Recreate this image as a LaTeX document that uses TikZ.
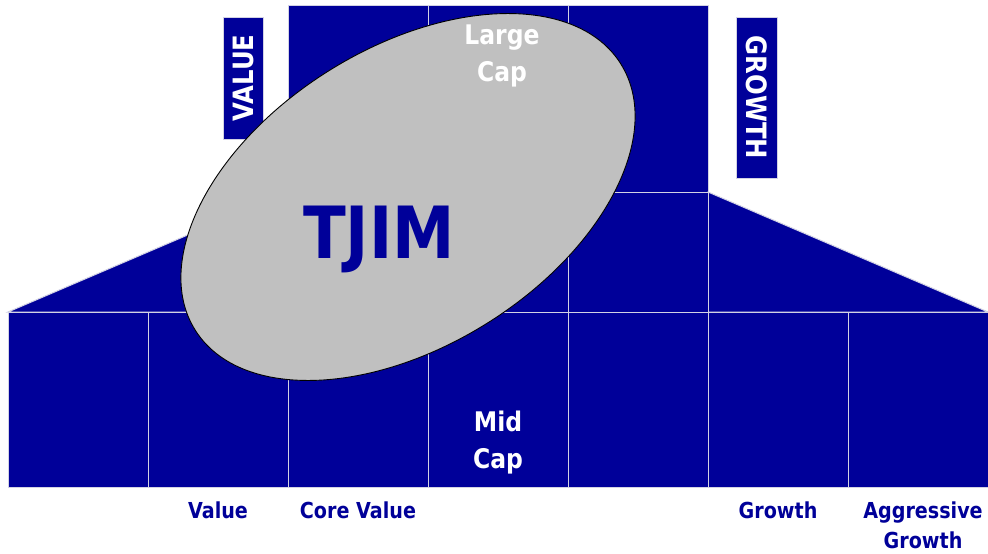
\documentclass[tikz,border=0pt]{standalone}
\usepackage{fontspec}
\setmainfont{DejaVu Sans}[FakeStretch=0.87]
\usetikzlibrary{backgrounds}

\definecolor{tjblue}{RGB}{0,0,153}
\definecolor{capgray}{RGB}{192,192,192}
\definecolor{gridline}{RGB}{210,210,228}

\begin{document}
\begin{tikzpicture}[x=1pt, y=-1pt,
	cell/.style={fill=tjblue, draw=gridline, line width=1pt},
	tagbox/.style={fill=tjblue, draw=gridline, line width=0.8pt, text=white, inner sep=0pt, font=\fontsize{28}{30}\selectfont\bfseries},
	captext/.style={text=white, align=center, font=\fontsize{27}{37}\selectfont\bfseries},
	styletext/.style={text=tjblue, align=center, font=\fontsize{22}{30}\selectfont\bfseries}]

	% page
	\fill[white] (0,0) rectangle (988,554);
	\useasboundingbox (0,0) rectangle (988,554);

	%large cap block
	\foreach \x in {288,428,568}
		\draw[cell] (\x,5) rectangle ++(140,187);

	%mid band, sloped sides
	\draw[cell] (8,312) -- (288,192) -- (288,312) -- cycle;
	\draw[cell] (708,192) -- (988,312) -- (708,312) -- cycle;
	\foreach \x in {288,428,568}
		\draw[cell] (\x,192) rectangle ++(140,120);

	%bottom row
	\foreach \x in {8,148,...,848}
		\draw[cell] (\x,312) rectangle ++(140,175);

	% style tags
	\node[tagbox, rotate=90, minimum width=122pt, minimum height=40pt] (valuetag) at (243,78) {VALUE};
	\node[tagbox, rotate=-90, minimum width=161pt, minimum height=41pt] (growthtag) at (756.5,97.5) {GROWTH};

	% TJIM ellipse
	\draw[fill=capgray, draw=black, line width=0.9pt, rotate around={32:(408,197)}] (408,197) ellipse [x radius=251, y radius=149];

	% Text nodes
	\node[text=tjblue, font=\fontsize{72}{72}\selectfont\bfseries, anchor=base] (tjim) at (379,258) {TJIM};
	\node[captext] (large) at (502,56) {Large\\Cap};
	\node[captext] (mid) at (498,443) {Mid\\Cap};

	\node[styletext, anchor=base] (value) at (218,518) {Value};
	\node[styletext, anchor=base] (core) at (358,518) {Core Value};
	\node[styletext, anchor=base] (growth) at (778,518) {Growth};
	\node[styletext] (aggr) at (923,525) {Aggressive\\Growth};
\end{tikzpicture}
\end{document}
